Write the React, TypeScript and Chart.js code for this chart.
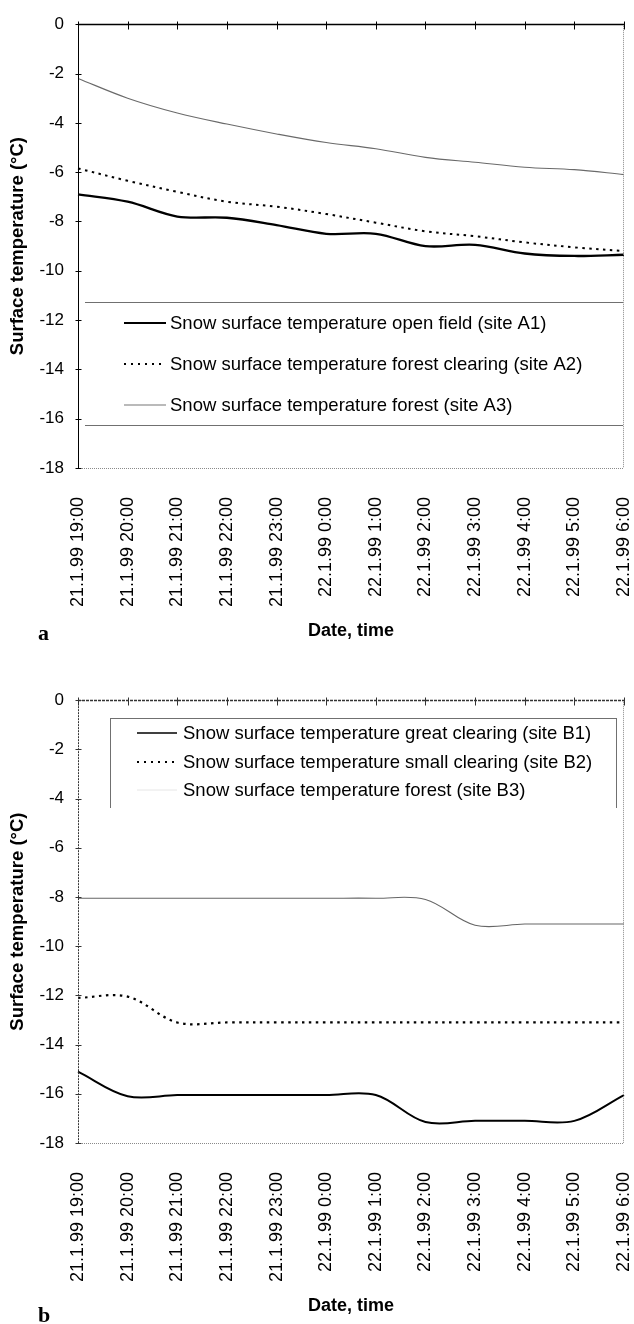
import React, { useEffect, useRef } from 'react';
import { Chart, registerables } from 'chart.js';

Chart.register(...registerables);

// ---------- data ----------
const timeLabels = [
  '21.1.99 19:00', '21.1.99 20:00', '21.1.99 21:00', '21.1.99 22:00',
  '21.1.99 23:00', '22.1.99 0:00', '22.1.99 1:00', '22.1.99 2:00',
  '22.1.99 3:00', '22.1.99 4:00', '22.1.99 5:00', '22.1.99 6:00',
];

const yMin = -18;
const yMax = 0;
const yStep = 2;

// panel a
const siteA1 = [-6.9, -7.2, -7.8, -7.85, -8.15, -8.5, -8.5, -9.0, -8.95, -9.3, -9.4, -9.35];
const siteA2 = [-5.85, -6.35, -6.8, -7.2, -7.4, -7.7, -8.05, -8.4, -8.6, -8.85, -9.05, -9.2];
const siteA3 = [-2.2, -3.0, -3.6, -4.05, -4.45, -4.8, -5.05, -5.4, -5.6, -5.8, -5.9, -6.1];

// panel b
const siteB1 = [-15.1, -16.1, -16.05, -16.05, -16.05, -16.05, -16.05, -17.15, -17.1, -17.1, -17.1, -16.05];
const siteB2 = [-12.1, -12.05, -13.1, -13.1, -13.1, -13.1, -13.1, -13.1, -13.1, -13.1, -13.1, -13.1];
const siteB3 = [-8.05, -8.05, -8.05, -8.05, -8.05, -8.05, -8.05, -8.1, -9.15, -9.1, -9.1, -9.1];

const seriesNamesA = [
  'Snow surface temperature open field (site A1)',
  'Snow surface temperature forest clearing (site A2)',
  'Snow surface temperature forest (site A3)',
];
const seriesNamesB = [
  'Snow surface temperature great clearing (site B1)',
  'Snow surface temperature small clearing (site B2)',
  'Snow surface temperature forest (site B3)',
];

const xTitle = 'Date, time';
const yTitle = 'Surface temperature (°C)';

// ---------- styling ----------
const FONT = '"Liberation Sans", Arial, Helvetica, sans-serif';
const DOT = [2.5, 4.5];

type Sample = { color: string; width: number; dash: number[] };
type LegendBox = {
  left: number; right: number; top: number; bottom: number;
  sides: { top: boolean; bottom: boolean; left: boolean; right: boolean };
  rows: number[]; sampleX0: number; sampleX1: number; textX: number;
  samples: Sample[];
};
type FrameCfg = {
  axisColor: string; leftDash: number[]; topDash: number[]; topWidth: number;
  legend: LegendBox;
};

function makeFramePlugin(cfg: FrameCfg) {
  return {
    id: 'frameAndLegend',
    afterDraw(chart: any) {
      const { ctx, chartArea, scales } = chart;
      const { left, right, top, bottom } = chartArea;
      const x = scales.x;
      const y = scales.y;
      ctx.save();
      // right and bottom borders (dotted grey)
      ctx.lineWidth = 1;
      ctx.strokeStyle = '#8a8a8a';
      ctx.setLineDash([1, 1]);
      ctx.beginPath();
      const by = Math.round(bottom) + 0.5;
      const rx = Math.round(right) - 0.5;
      ctx.moveTo(left, by); ctx.lineTo(right, by);
      ctx.moveTo(rx, top); ctx.lineTo(rx, bottom);
      ctx.stroke();
      // left value axis
      const lx = Math.round(left) + 0.5;
      ctx.strokeStyle = cfg.axisColor;
      ctx.setLineDash(cfg.leftDash);
      ctx.beginPath(); ctx.moveTo(lx, top); ctx.lineTo(lx, bottom); ctx.stroke();
      ctx.setLineDash([]);
      ctx.beginPath();
      y.ticks.forEach((t: any) => {
        const py = Math.round(y.getPixelForValue(t.value)) + 0.5;
        ctx.moveTo(lx - 3, py); ctx.lineTo(lx + 3, py);
      });
      ctx.stroke();
      // category axis crossing at 0 (top)
      const zy = Math.round(y.getPixelForValue(0)) + 0.5;
      ctx.lineWidth = cfg.topWidth;
      ctx.setLineDash(cfg.topDash);
      ctx.beginPath(); ctx.moveTo(left, zy); ctx.lineTo(right, zy); ctx.stroke();
      ctx.setLineDash([]);
      ctx.lineWidth = 1;
      ctx.beginPath();
      x.ticks.forEach((_t: any, i: number) => {
        const px = Math.round(x.getPixelForTick(i)) + 0.5;
        ctx.moveTo(px, zy - 3); ctx.lineTo(px, zy + 5);
      });
      ctx.stroke();
      // legend
      const L = cfg.legend;
      ctx.fillStyle = '#fff';
      ctx.fillRect(L.left, L.top, L.right - L.left, L.bottom - L.top);
      ctx.strokeStyle = '#707070';
      ctx.lineWidth = 1;
      ctx.beginPath();
      if (L.sides.top) { ctx.moveTo(L.left, L.top + 0.5); ctx.lineTo(L.right, L.top + 0.5); }
      if (L.sides.bottom) { ctx.moveTo(L.left, L.bottom + 0.5); ctx.lineTo(L.right, L.bottom + 0.5); }
      if (L.sides.left) { ctx.moveTo(L.left + 0.5, L.top); ctx.lineTo(L.left + 0.5, L.bottom); }
      if (L.sides.right) { ctx.moveTo(L.right + 0.5, L.top); ctx.lineTo(L.right + 0.5, L.bottom); }
      ctx.stroke();
      ctx.font = `18.5px ${FONT}`;
      ctx.textBaseline = 'middle';
      ctx.textAlign = 'left';
      chart.data.datasets.forEach((ds: any, i: number) => {
        const s = L.samples[i];
        const ry = L.rows[i];
        ctx.strokeStyle = s.color;
        ctx.lineWidth = s.width;
        ctx.setLineDash(s.dash);
        ctx.beginPath(); ctx.moveTo(L.sampleX0, ry); ctx.lineTo(L.sampleX1, ry); ctx.stroke();
        ctx.setLineDash([]);
        ctx.fillStyle = '#000';
        ctx.fillText(ds.label, L.textX, ry + 1);
      });
      ctx.restore();
    },
  };
}

type PanelProps = {
  top: number;
  height: number;
  plotBottom: number;
  titlePadBottom: number;
  datasets: any[];
  frame: FrameCfg;
};

function Panel({ top, height, plotBottom, titlePadBottom, datasets, frame }: PanelProps) {
  const ref = useRef<HTMLCanvasElement | null>(null);
  useEffect(() => {
    if (!ref.current) return;
    const chart = new Chart(ref.current, {
      type: 'line',
      data: { labels: timeLabels, datasets },
      options: {
        animation: false,
        responsive: false,
        devicePixelRatio: 1,
        events: [],
        layout: { padding: { top: 16, right: 10, bottom: 0, left: 0 } },
        elements: { point: { radius: 0 }, line: { tension: 0.35, cubicInterpolationMode: 'default' } },
        plugins: { legend: { display: false }, tooltip: { enabled: false }, title: { display: false } },
        scales: {
          x: {
            type: 'category',
            offset: false,
            grid: { display: false, drawTicks: false },
            border: { display: false },
            ticks: {
              autoSkip: false, minRotation: 90, maxRotation: 90, padding: 29,
              color: '#000', font: { family: FONT, size: 18 },
            },
            title: {
              display: true, text: xTitle, color: '#000',
              font: { family: FONT, size: 18, weight: 'bold' },
              padding: { top: 0, bottom: titlePadBottom },
            },
            afterFit: (s: any) => {
              s.height = height - plotBottom;
              s.paddingLeft = 0;
              s.paddingRight = 0;
            },
          },
          y: {
            min: yMin, max: yMax,
            grid: { display: false, drawTicks: false },
            border: { display: false },
            ticks: { stepSize: yStep, padding: 14, color: '#000', font: { family: FONT, size: 17 } },
            title: {
              display: true, text: yTitle, color: '#000',
              font: { family: FONT, size: 18.5, weight: 'bold' },
              padding: { top: 7, bottom: 0 },
            },
            afterFit: (s: any) => { s.width = 78; },
          },
        },
      } as any,
      plugins: [makeFramePlugin(frame)],
    });
    return () => chart.destroy();
  }, []);
  return (
    <canvas
      ref={ref}
      width={634}
      height={height}
      style={{ position: 'absolute', left: 0, top, width: 634, height, display: 'block' }}
    />
  );
}

const datasetsA = [
  { label: seriesNamesA[0], data: siteA1, borderColor: '#000', borderWidth: 2.3, fill: false },
  { label: seriesNamesA[1], data: siteA2, borderColor: '#000', borderWidth: 2, borderDash: DOT, fill: false },
  { label: seriesNamesA[2], data: siteA3, borderColor: '#6a6a6a', borderWidth: 1.1, fill: false },
];
const datasetsB = [
  { label: seriesNamesB[0], data: siteB1, borderColor: '#000', borderWidth: 2, fill: false },
  { label: seriesNamesB[1], data: siteB2, borderColor: '#000', borderWidth: 2.2, borderDash: DOT, fill: false },
  { label: seriesNamesB[2], data: siteB3, borderColor: '#666', borderWidth: 1.1, fill: false },
];

const frameA: FrameCfg = {
  axisColor: '#000', leftDash: [], topDash: [], topWidth: 1.5,
  legend: {
    left: 85, right: 623, top: 302, bottom: 425,
    sides: { top: true, bottom: true, left: false, right: false },
    rows: [323, 364, 405], sampleX0: 124, sampleX1: 166, textX: 170,
    samples: [
      { color: '#000', width: 2.2, dash: [] },
      { color: '#000', width: 2, dash: [2, 5] },
      { color: '#777', width: 1.2, dash: [] },
    ],
  },
};

const frameB: FrameCfg = {
  axisColor: '#333', leftDash: [2, 1], topDash: [3, 1], topWidth: 1.3,
  legend: {
    left: 110, right: 616, top: 42, bottom: 132,
    sides: { top: true, bottom: false, left: true, right: true },
    rows: [57, 86, 114], sampleX0: 137, sampleX1: 177, textX: 183,
    samples: [
      { color: '#000', width: 1.5, dash: [] },
      { color: '#000', width: 1.8, dash: [2, 5] },
      { color: '#e6e6e6', width: 1, dash: [] },
    ],
  },
};

const panelLetter: React.CSSProperties = {
  position: 'absolute',
  left: 38,
  fontFamily: '"Liberation Serif", "Times New Roman", serif',
  fontWeight: 'bold',
  fontSize: 22,
  lineHeight: '22px',
  margin: 0,
};

export default function App() {
  return (
    <div style={{ position: 'absolute', left: 0, top: 0, width: 634, height: 1324, background: '#fff', overflow: 'hidden' }}>
      <Panel top={0} height={662} plotBottom={468} titlePadBottom={20} datasets={datasetsA} frame={frameA} />
      <Panel top={676} height={648} plotBottom={467} titlePadBottom={7} datasets={datasetsB} frame={frameB} />
      <span style={{ ...panelLetter, top: 622 }}>a</span>
      <span style={{ ...panelLetter, top: 1304 }}>b</span>
    </div>
  );
}
